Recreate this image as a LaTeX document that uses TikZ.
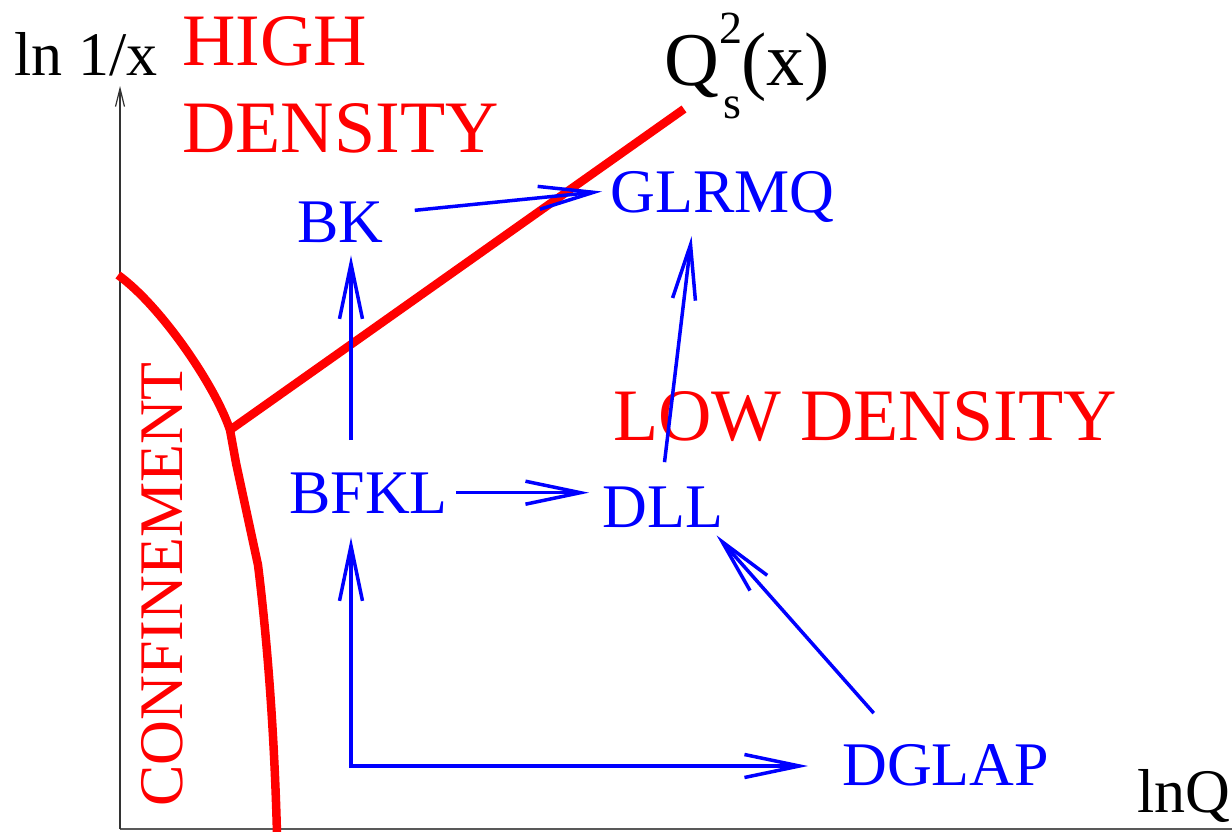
\documentclass[tikz,border=0pt]{standalone}
\usepackage{fontspec}
\setmainfont{Liberation Serif}
\usepackage{xcolor}
\usepackage{tikz}
\usetikzlibrary{arrows.meta}
\definecolor{regime}{RGB}{255, 0, 0}
\definecolor{evolution}{RGB}{0, 0, 255}
\definecolor{axisline}{gray}{0.35}

\tikzset{
  evtip/.tip={Straight Barb[length=1.1cm, width=0.46cm]},
  eqn/.style={text=evolution, font=\fontsize{35.3}{42}\selectfont, inner sep=0.16cm, text depth=0pt, anchor=base west},
  flow/.style={draw=evolution, line width=0.07cm, -evtip},
  regtext/.style={text=regime, font=\fontsize{42.1}{49.5}\selectfont, inner sep=0pt},
  boundary/.style={draw=regime, line width=0.17cm, line join=round},
  axlabel/.style={font=\fontsize{35.3}{42}\selectfont, inner sep=0pt, anchor=base west},
}

\begin{document}
\begin{tikzpicture}[x=0.02cm, y=-0.02cm]
			\useasboundingbox (0,0) rectangle (1232,832);
			
			% axes
			\coordinate (origin) at (120,829);
			\draw[axisline, line width=0.03cm] (origin) -- (1232,829);
			\draw[black!80, line width=0.025cm, -{Straight Barb[length=0.36cm, width=0.18cm]}] (origin) -- (120,86);
			\node[axlabel] (ylab) at (14,75) {ln 1/x};
			\node[axlabel] (xlab) at (1137,812) {lnQ};
			
			% confinement boundary and saturation line
			\coordinate (kink) at (230,430);
			\draw[boundary] (118,275) .. controls (160,305) and (215,385) .. (kink) -- (236,463) -- (258,565) .. controls (266,630) and (274,720) .. (277,834);
			\draw[boundary] (kink) -- (684,109);
			
			\node[regtext, align=left, anchor=north west] (high) at (182,16.5) {HIGH\\DENSITY};
			\node[regtext, anchor=base west] (low) at (613,440) {LOW DENSITY};
			\node[regtext, font=\fontsize{35.3}{42}\selectfont, rotate=90, anchor=base west] (conf) at (182,807) {CONFINEMENT};
			\node[axlabel, font=\fontsize{43.2}{50}\selectfont] (qs) at (664,85) {Q\rlap{\raisebox{0.55em}{\fontsize{26.2}{30}\selectfont 2}}\kern2.3pt\raisebox{-0.44em}{\fontsize{26.2}{30}\selectfont s}(x)};
			
			% evolution equations
			\node[eqn] (bk) at (289,242) {BK};
			\node[eqn] (glrmq) at (602,212) {GLRMQ};
			\node[eqn] (bfkl) at (281,513) {BFKL};
			\node[eqn] (dll) at (594,527) {DLL};
			\node[eqn] (dglap) at (834,785) {DGLAP};
			\coordinate (corner) at (351,766);
			
			\draw[flow, shorten <=0.46cm] (bk.10) -- (glrmq.west);
			\draw[flow, shorten <=0.48cm, shorten >=0.1cm] (corner |- bfkl.north) -- (corner |- bk.south);
			\draw[flow, evtip-evtip, shorten <=0.32cm, shorten >=0.52cm] (corner |- bfkl.south) -- (corner) -- (corner -| dglap.west);
			\draw[flow, shorten >=0.1cm] (bfkl.east) -- (bfkl.east -| dll.west);
			\draw[flow, shorten <=0.32cm, shorten >=0.32cm] (dll.north) -- (glrmq.-135);
			\draw[flow, shorten <=0.6cm] (dglap.151) -- (dll.-28);
			
		\end{tikzpicture}
\end{document}
